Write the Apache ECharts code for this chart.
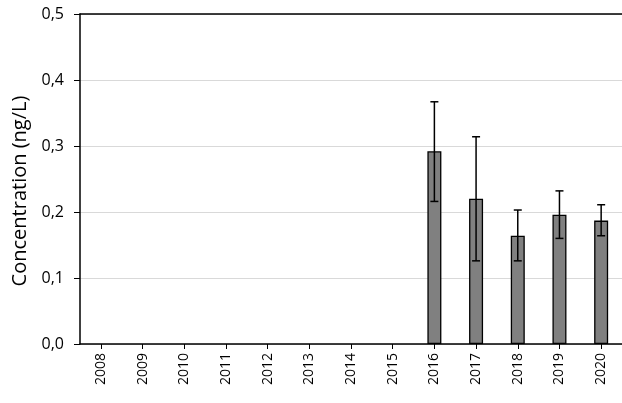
<!DOCTYPE html>
<html><head><meta charset="utf-8">
<script src="https://cdn.jsdelivr.net/npm/echarts@6/dist/echarts.min.js"></script>
<style>html,body{margin:0;padding:0;background:#fff}#c{width:622px;height:403px}</style>
</head><body><div id="c"></div>
<script>
var years = ['2008','2009','2010','2011','2012','2013','2014','2015','2016','2017','2018','2019','2020'];
var means = [null,null,null,null,null,null,null,null,0.292,0.220,0.164,0.196,0.187];
var errLow = [null,null,null,null,null,null,null,null,0.216,0.126,0.126,0.160,0.164];
var errHigh = [null,null,null,null,null,null,null,null,0.367,0.314,0.203,0.232,0.211];

var errData = [];
for (var i = 0; i < years.length; i++) {
  if (errLow[i] != null) errData.push([i, errLow[i], errHigh[i]]);
}
var FONT = '"Open Sans", "Liberation Sans", sans-serif';
var chart = echarts.init(document.getElementById('c'));
chart.setOption({
  animation: false,
  grid: {left: 80, right: 0, top: 14, bottom: 59},
  xAxis: [{
    type: 'category', data: years,
    axisLine: {lineStyle: {color: '#000', width: 1.5}},
    axisTick: {show: true, alignWithLabel: true, length: 5, lineStyle: {color: '#000'}},
    axisLabel: {rotate: 90, color: '#000', fontSize: 14, fontFamily: FONT, margin: 9},
    splitLine: {show: false}
  }, {
    type: 'category', data: years, position: 'top',
    axisLine: {show: true, lineStyle: {color: '#000', width: 1.5}},
    axisTick: {show: false}, axisLabel: {show: false}
  }],
  yAxis: {
    type: 'value', min: 0, max: 0.5, interval: 0.1,
    name: 'Concentration (ng/L)', nameLocation: 'middle', nameGap: 48,
    nameTextStyle: {fontSize: 20, color: '#000', fontFamily: FONT, padding: [0, 24, 0, 0]},
    axisLine: {show: true, lineStyle: {color: '#000', width: 1.5}},
    axisTick: {show: true, length: 6, lineStyle: {color: '#000'}},
    axisLabel: {color: '#000', fontSize: 16, fontFamily: FONT, margin: 16,
      formatter: function (v) { return v.toFixed(1).replace('.', ','); }},
    splitLine: {show: true, lineStyle: {color: '#d9d9d9', width: 1}}
  },
  series: [{
    type: 'bar', data: means, barWidth: 14,
    itemStyle: {color: '#808080', borderColor: '#000', borderWidth: 1.3},
    z: 2
  }, {
    type: 'custom', data: errData, z: 3,
    renderItem: function (params, api) {
      var x = api.value(0);
      var lo = api.coord([x, api.value(1)]);
      var hi = api.coord([x, api.value(2)]);
      var hw = 4;
      var st = {stroke: '#000', lineWidth: 1.5};
      return {type: 'group', children: [
        {type: 'line', shape: {x1: hi[0], y1: hi[1], x2: lo[0], y2: lo[1]}, style: st},
        {type: 'line', shape: {x1: hi[0]-hw, y1: hi[1], x2: hi[0]+hw, y2: hi[1]}, style: st},
        {type: 'line', shape: {x1: lo[0]-hw, y1: lo[1], x2: lo[0]+hw, y2: lo[1]}, style: st}
      ]};
    }
  }]
});
</script></body></html>
